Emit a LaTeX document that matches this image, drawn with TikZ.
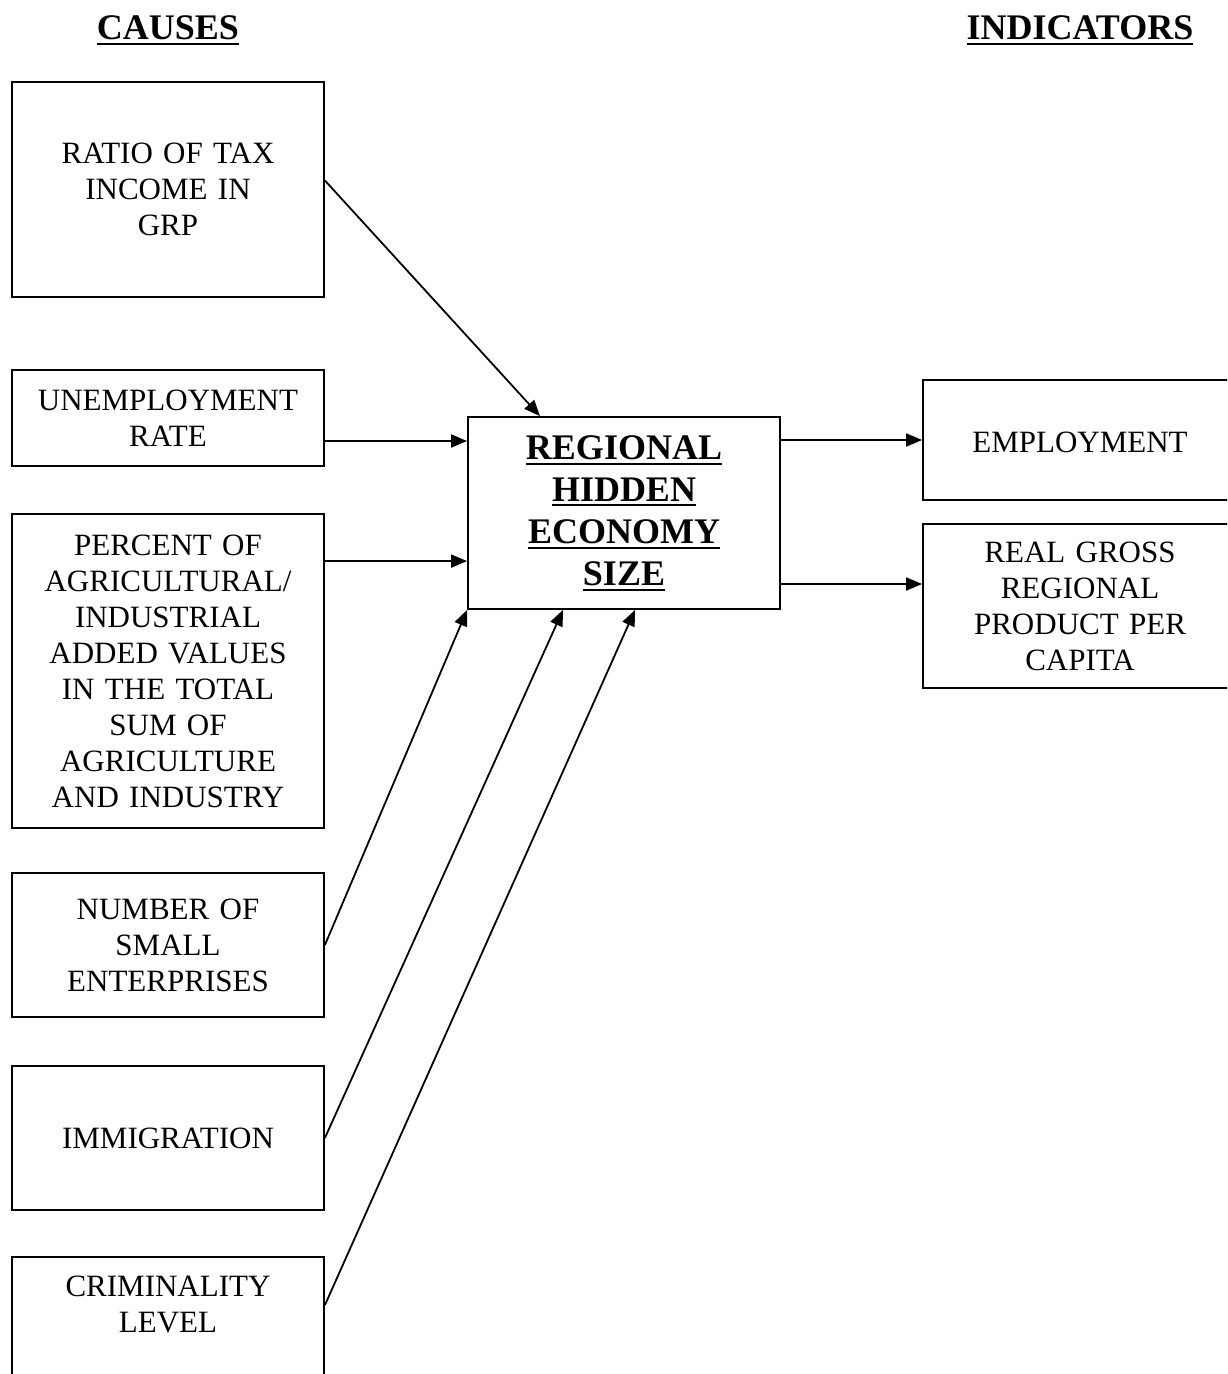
\documentclass[tikz,border=0pt]{standalone}
\usepackage{fontspec}
\setmainfont{Liberation Serif}
\usepackage{tikz}
\usetikzlibrary{arrows.meta,positioning,calc}

% bold text with a thick rule under it
\newcommand{\ulbold}[1]{\leavevmode\vtop{\hbox{\bfseries #1}\kern1.6pt\hrule height 1pt}}

\begin{document}
\begin{tikzpicture}[
    x=0.5pt, y=-0.5pt,
    box/.style={draw, line width=0.9pt, minimum width=156pt, inner sep=0pt,
      text width=150pt, align=center, font=\fontsize{15.5}{18}\selectfont},
    title/.style={font=\fontsize{18}{21}\selectfont},
    arr/.style={line width=0.9pt, -{Triangle[length=8pt,width=6.5pt]}},
  ]
  \clip (0,0) rectangle (1227,1374);

  % headings
  \node[title] (causes) at (168,30) {\ulbold{CAUSES}};
  \node[title] (indic) at (1080,30) {\ulbold{INDICATORS}};

  % causes
  \node[box, minimum height=107.5pt] (tax) at (168,189.5) {RATIO OF TAX\\INCOME IN\\GRP\\[4pt]};
  \node[box, minimum height=48pt] (unemp) at (168,418) {UNEMPLOYMENT\\RATE};
  \node[box, minimum height=157pt] (agri) at (168,671)
    {PERCENT OF\\AGRICULTURAL/\\INDUSTRIAL\\ADDED VALUES\\IN THE TOTAL\\SUM OF\\AGRICULTURE\\AND INDUSTRY};
  \node[box, minimum height=72pt] (small) at (168,945) {NUMBER OF\\SMALL\\ENTERPRISES\\[5pt]};
  \node[box, minimum height=72pt] (immig) at (168,1138) {IMMIGRATION\\[3pt]};
  \node[box, minimum height=83.5pt] (crime) at (168,1340.5) {CRIMINALITY\\LEVEL\\~\\~};

  % latent variable
  \node[box, minimum height=96pt, font=\fontsize{18}{21}\selectfont] (hidden) at (624,513)
    {\ulbold{REGIONAL}\\\ulbold{HIDDEN}\\\ulbold{ECONOMY}\\\ulbold{SIZE}};

  % indicators
  \node[box, minimum width=157pt, minimum height=60pt] (employ) at (1080,440) {\\[-5pt]EMPLOYMENT};
  \node[box, minimum width=157pt, minimum height=82pt] (gdp) at (1080,606)
    {REAL GROSS\\REGIONAL\\PRODUCT PER\\CAPITA};

  % causes -> hidden economy
  \draw[arr] ([yshift=4.5pt]tax.east) -- ([xshift=-42pt]hidden.north);
  \draw[arr] ([yshift=-11.5pt]unemp.east) coordinate (u) -- (u -| hidden.west);
  \draw[arr] ([yshift=-24pt]agri.north east) coordinate (p) -- (p -| hidden.west);
  \draw[arr] (small.east) -- (hidden.south west);
  \draw[arr] (immig.east) -- ([xshift=-30.5pt]hidden.south);
  \draw[arr] ([yshift=-24.5pt]crime.north east) -- ([xshift=5.5pt]hidden.south);

  % hidden economy -> indicators
  \draw[arr] (employ.west -| hidden.east) -- (employ.west);
  \draw[arr] ([yshift=-35.5pt]hidden.east) coordinate (g) -- (g -| gdp.west);
\end{tikzpicture}
\end{document}
